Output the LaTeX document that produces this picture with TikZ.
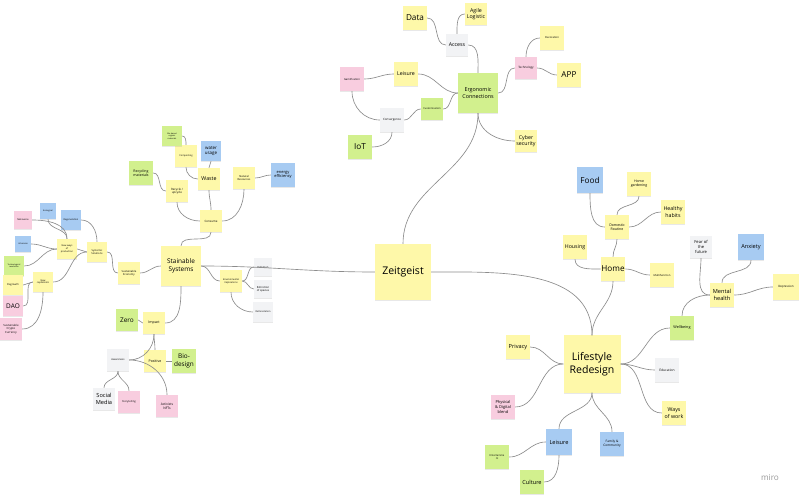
\documentclass[tikz,border=0pt]{standalone}
\usepackage{fontspec}
\setmainfont{Open Sans}
\usetikzlibrary{shadows}
\definecolor{ny}{HTML}{FEF8A9}
\definecolor{ng}{HTML}{D2F08E}
\definecolor{np}{HTML}{F8CDDF}
\definecolor{nb}{HTML}{A7CBF2}
\definecolor{nw}{HTML}{F2F3F5}
\definecolor{ln}{HTML}{8C8C8C}
\newcommand{\fs}[1]{\fontsize{#1}{#1}\selectfont\setlength{\baselineskip}{1.2\baselineskip}}

\begin{document}
\begin{tikzpicture}[x=0.3mm,y=0.3mm,
  n/.style={rectangle,align=center,inner sep=0.5pt,minimum size=6.6mm,fill=ny,
    drop shadow={shadow xshift=0pt,shadow yshift=-1.2pt,opacity=0.18},font=\fs{2.5}},
  ye/.style={n,fill=ny},gr/.style={n,fill=ng},pk/.style={n,fill=np},bl/.style={n,fill=nb},wh/.style={n,fill=nw},
  xs/.style={minimum size=5.4mm},md/.style={minimum size=7.2mm},lg/.style={minimum size=7.8mm},
  big/.style={minimum size=12mm},hg/.style={minimum size=16.8mm},
  f2/.style={font=\fs{2}},f3/.style={font=\fs{3}},f4/.style={font=\fs{4.5}},
  f5/.style={font=\fs{5.5}},f6/.style={font=\fs{7}},f9/.style={font=\fs{9}},
  c/.style={draw=ln,line width=0.55pt}]
\useasboundingbox[fill=white] (0,0) rectangle (800,-500);
% centre
\node[ye,hg,f9] (zg) at (403,-272) {Zeitgeist};
% ergonomic connections
\node[gr,big,font=\fs{4.6}] (ec) at (478,-93) {Ergonomic\\Connections};
\node[wh,f4] (e1) at (457,-45) {Access};
\node[ye,md,f6] (e2) at (415,-18) {Data};
\node[ye,f4] (e3) at (476,-14) {Agile\\Logistic};
\node[ye,md,f4] (e4) at (406,-74) {Leisure};
\node[pk,md,font=\fs{2.3}] (e5) at (352,-79) {Gamification};
\node[gr,font=\fs{2.2}] (e6) at (432,-109) {Customisation};
\node[wh,md] (e7) at (392,-120) {Convergence};
\node[gr,md,f6] (e8) at (360,-147) {IoT};
\node[pk,font=\fs{2.5}] (e9) at (526,-68) {Technology};
\node[ye,md,font=\fs{2.3}] (e10) at (552,-38) {Decoration};
\node[ye,md,f6] (e11) at (569,-75) {APP};
\node[ye,f4] (e12) at (526,-141) {Cyber\\security};
\foreach \a/\b/\o/\i in {e1/ec/0/90,e1/e2/180/0,e1/e3/90/180,ec/e4/180/0,e4/e5/180/0,
  e5/e7/-90/180,e7/e6/0/180,e6/ec/0/180,e7/e8/-90/0,ec/e9/0/180,e9/e10/90/180,
  e9/e11/0/180,ec/e12/-90/180,ec/zg/-90/90}
  \draw[c] (\a) to[out=\o,in=\i] (\b);
% stainable systems
\node[ye,big,font=\fs{5.5}] (ss) at (181,-266) {Stainable\\Systems};
\node[ye] (s1) at (211,-221) {Consume};
\node[ye] (s2) at (177,-191) {Recycle /\\upcycle};
\node[gr,md,f3] (s3) at (141,-173) {Recycling\\materials};
\node[ye,f4] (s4) at (209,-179) {Waste};
\node[ye,f2] (s5) at (186,-156) {Composting};
\node[gr,minimum size=6mm,font=\fs{1.7}] (s6) at (172,-136) {Bio-based\\organic\\materials};
\node[bl,minimum size=6mm,font=\fs{3.8}] (s7) at (211,-151) {water\\usage};
\node[ye,font=\fs{2.3}] (s8) at (244,-178) {Natural\\Resources};
\node[bl,md,font=\fs{3.4}] (s9) at (283,-175) {energy\\efficiency};
\node[ye,font=\fs{2.3}] (s10) at (129,-273) {Sustainable\\Economy};
\node[ye,minimum size=6mm,font=\fs{2.2}] (s11) at (97,-252) {Systemic\\Solutions};
\node[ye,minimum size=6mm,f2] (s12) at (67,-249) {New ways\\of\\production};
\node[ye,minimum size=6mm,f2] (s13) at (43,-282) {New\\capitalisms};
\node[pk,xs,f2] (s14) at (23,-220) {Metaverse};
\node[bl,minimum size=4.8mm,font=\fs{1.8}] (s15) at (48,-211) {Ecological};
\node[bl,minimum size=6mm,f2] (s16) at (71,-220) {Regeneration};
\node[bl,minimum size=4.8mm,font=\fs{1.8}] (s17) at (23,-244) {Urbanism};
\node[gr,minimum size=6mm,font=\fs{1.7}] (s18) at (14,-266) {Technological\\revolution};
\node[ye,minimum size=6mm,font=\fs{2.2}] (s19) at (13,-285) {Degrowth};
\node[pk,minimum size=6mm,f5] (s20) at (13,-306) {DAO};
\node[pk,font=\fs{2.4}] (s21) at (11,-329) {Sustainable\\Crypto\\Currency};
\node[ye,f2] (s22) at (231,-281) {Environmental\\Implications};
\node[wh,xs,font=\fs{2.3}] (s23) at (263,-267) {Pollution};
\node[wh,xs,font=\fs{2.3}] (s24) at (263,-289) {Extinction\\of species};
\node[wh,minimum size=6mm,f2] (s25) at (263,-312) {Deforestation};
\node[ye,f3] (s26) at (154,-323) {Impact};
\node[gr,f5] (s27) at (127,-320) {Zero};
\node[ye,f3] (s28) at (155,-361) {Positive};
\node[gr,md,f5] (s29) at (184,-361) {Bio-\\design};
\node[wh,font=\fs{2.2}] (s30) at (118,-360) {Awareness};
\node[wh,font=\fs{4.8}] (s31) at (104,-399) {Social\\Media};
\node[pk,font=\fs{2.2}] (s32) at (129,-402) {Storytelling};
\node[pk,font=\fs{2.8}] (s33) at (167,-406) {Activists\\NFTs};
\foreach \a/\b/\o/\i in {ss/s1/90/-90,s1/s2/180/-90,s2/s3/180/0,s1/s4/90/-90,s4/s5/180/-90,
  s5/s6/90/0,s4/s7/90/-90,s1/s8/0/-90,s8/s9/0/180,ss/s10/180/0,s10/s11/180/0,
  s11/s12/180/0,s11/s16/90/0,s11/s13/180/0,s12/s14/90/0,s12/s15/90/-90,s12/s17/180/0,
  s12/s18/180/0,s13/s19/180/0,s13/s20/180/0,s13/s21/-90/0,ss/s22/0/180,s22/s23/0/180,
  s22/s24/0/180,s22/s25/-90/180,ss/s26/-90/0,s26/s27/180/0,s26/s28/-90/90,s26/s30/-90/0,
  s28/s29/0/180,s30/s31/-90/90,s30/s32/-90/90,s30/s33/0/90,ss/zg/0/180}
  \draw[c] (\a) to[out=\o,in=\i] (\b);
% lifestyle redesign
\node[ye,minimum size=17.1mm,f9] (lr) at (592,-364) {Lifestyle\\Redesign};
\node[ye,md,f6] (l1) at (613,-269) {Home};
\node[ye,md,f4] (l2) at (575,-247) {Housing};
\node[ye,md,f3] (l3) at (617,-227) {Domestic\\Routine};
\node[bl,lg,f6] (l4) at (590,-180) {Food};
\node[ye,md,f3] (l5) at (639,-184) {Home\\gardening};
\node[ye,md,f4] (l6) at (673,-212) {Healthy\\habits};
\node[ye,md,font=\fs{2.3}] (l7) at (662,-275) {Multifunction};
\node[gr,md,font=\fs{3.2}] (l8) at (682,-328) {Wellbeing};
\node[ye,md,font=\fs{4.8}] (l9) at (722,-295) {Mental\\health};
\node[wh,font=\fs{3.5}] (l10) at (701,-247) {Fear of\\the\\future};
\node[bl,lg,font=\fs{4.8}] (l11) at (751,-247) {Anxiety};
\node[ye,lg,font=\fs{2.5}] (l12) at (786,-287) {Depression};
\node[ye,md,font=\fs{4.8}] (l13) at (518,-347) {Privacy};
\node[pk,md,font=\fs{3.4}] (l14) at (503,-407) {Physical\\\& Digital\\blend};
\node[wh,md,font=\fs{2.8}] (l15) at (667,-370) {Education};
\node[ye,md,f4] (l16) at (674,-413) {Ways\\of work};
\node[bl,lg,font=\fs{4.8}] (l17) at (559,-442) {Leisure};
\node[bl,md,font=\fs{2.7}] (l18) at (612,-444) {Family \&\\Community};
\node[gr,md,font=\fs{2.2}] (l19) at (497,-457) {Entertainme\\nt};
\node[gr,md,font=\fs{4.8}] (l20) at (532,-482) {Culture};
\foreach \a/\b/\o/\i in {zg/lr/0/90,l1/lr/-90/90,l1/l2/180/-90,l1/l3/90/-90,l3/l4/180/-90,
  l3/l5/90/-90,l3/l6/0/180,l1/l7/0/180,lr/l8/0/180,l8/l9/90/180,l9/l10/180/-90,
  l9/l11/90/-90,l9/l12/0/180,lr/l13/180/0,lr/l14/180/0,lr/l15/0/180,lr/l16/0/180,
  lr/l17/-90/90,lr/l18/-90/90,l17/l19/180/0,l17/l20/-90/0}
  \draw[c] (\a) to[out=\o,in=\i] (\b);
\node[text=black!40,font=\fs{7}] (mr) at (770,-478) {miro};
\end{tikzpicture}
\end{document}
